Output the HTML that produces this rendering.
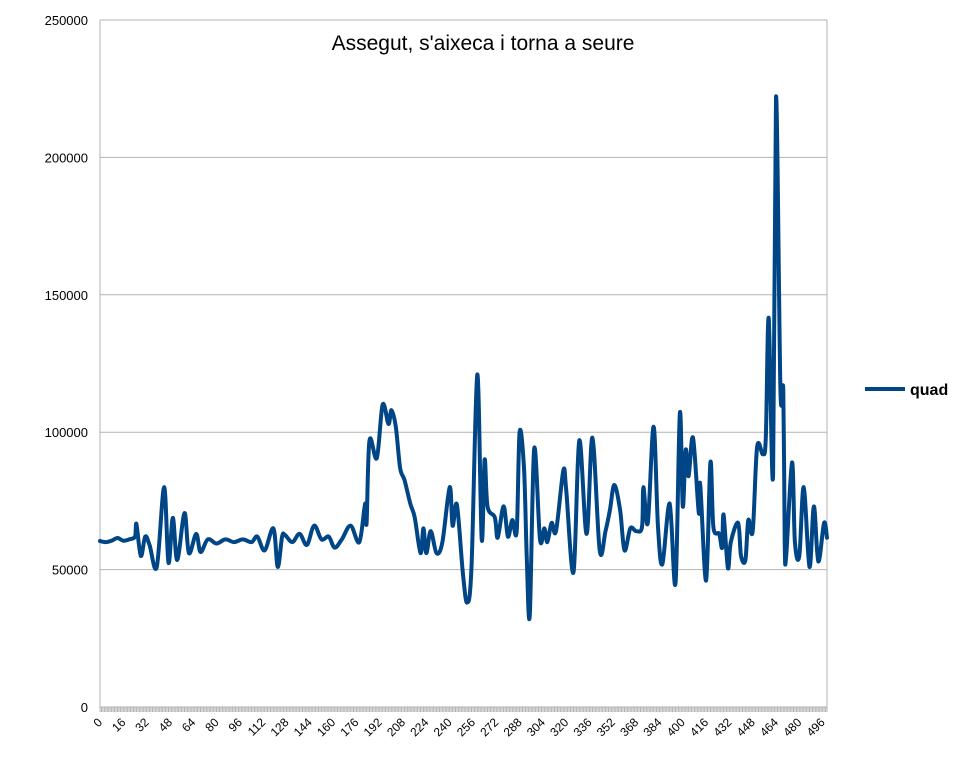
<!DOCTYPE html>
<html><head><meta charset="utf-8"><style>
body{margin:0;background:#fff;font-family:"Liberation Sans",sans-serif}
svg text{font-family:"Liberation Sans",sans-serif}
</style></head><body>
<svg id="c" width="967" height="777" xmlns="http://www.w3.org/2000/svg">
<text x="483" y="50" font-size="21" text-anchor="middle" fill="#000">Assegut, s'aixeca i torna a seure</text>
<g id="grid"></g><g id="xt"></g><g id="yl"></g>
<path id="line" fill="none" stroke="#004586" stroke-width="4" stroke-linejoin="round" stroke-linecap="round"/>
<line x1="865" y1="389" x2="905" y2="389" stroke="#004586" stroke-width="4"/>
<text x="910" y="395" font-size="16" font-weight="bold" fill="#000">quad</text>
</svg>
<script>
const xIdx=[0,4,8,12,16,20,24,25,28,31,34,39,44,47,50,53,58,61,66,69,74,80,86,92,98,104,108,113,119,122,125,127,132,137,142,147,152,157,161,166,172,178,182,183,185,190,194,198,200,203,206,209,213,216,220,222,224,227,231,235,240,242,245,249,252,255,259,262,264,266,271,273,277,280,283,286,288,291,293,295,298,302,305,307,310,313,318,320,325,329,334,338,343,347,350,353,357,360,364,368,372,373,376,380,383,386,391,395,398,400,402,404,407,411,412,416,419,421,425,427,428,431,433,438,440,443,445,448,451,455,457,459,462,464,467,469,470,471,475,477,480,483,487,490,493,497,499];
const vals=[60400,60000,60500,61500,60500,61000,62000,66600,55000,62000,59000,51000,80000,52500,68800,53500,70600,56000,63000,56400,61000,59500,61000,60000,61000,60000,62000,57000,65000,51000,62000,62600,60000,63000,59000,66000,61000,62000,58000,61000,66000,60000,74000,67000,97000,90600,110000,103000,108000,102000,87000,82600,74000,69000,56000,65000,56000,64000,56000,60000,80000,66000,73600,49000,38000,51000,121000,61000,90000,73000,69000,61600,73000,62000,68000,64000,100000,87000,53000,33500,94000,61000,65000,60000,67000,64000,86000,79000,49000,97000,63000,98000,57000,64000,71700,80800,71700,57000,65000,64000,65500,80000,67000,102000,65500,52000,74000,45000,107000,73000,93600,84000,98000,70600,81000,46000,89000,65500,63000,58000,70000,50600,60000,67000,55000,53500,68000,64000,94600,92000,98000,141600,84500,222000,116000,115000,60000,55000,89000,60000,55000,80000,51000,73000,53000,67000,61600];
const yTicks=[0,50000,100000,150000,200000,250000];
const xMax=499,L=100,R=827,T=20,B=707,NS="http://www.w3.org/2000/svg";
const xs=i=>L+(R-L)*i/xMax, ys=v=>B-(B-T)*v/250000;
function mk(t,a,p){const e=document.createElementNS(NS,t);for(const k in a)e.setAttribute(k,a[k]);document.getElementById(p).appendChild(e);return e;}
yTicks.forEach(v=>{
 const g=mk('line',{x1:L,x2:R,y1:ys(v),y2:ys(v),stroke:'#b3b3b3','stroke-width':1},'grid');
 
 
 const t=mk('text',{x:88,y:ys(v)+5,'font-size':13,'text-anchor':'end',fill:'#000'},'yl');
 
 
 t.textContent=v;
});
const ax=mk('line',{x1:L,x2:L,y1:T,y2:B,stroke:'#b3b3b3'},'grid');


const ax2=mk('line',{x1:R,x2:R,y1:T,y2:B,stroke:'#b3b3b3'},'grid');


let d='';
for(let i=0;i<=xMax;i++)d+=`M${xs(i).toFixed(2)} ${B}v5`;
const tk=mk('path',{d:d,stroke:'#b3b3b3','stroke-width':1},'xt');


for(let i=0;i<=xMax;i+=16){
 const x=xs(i),t=mk('text',{x:x+3,y:B+16,'font-size':12,'text-anchor':'end',fill:'#000',transform:`rotate(-45 ${x+3} ${B+16})`},'xt');
 
 
 t.textContent=i;
}
const P=xIdx.map((x,k)=>[xs(x),ys(vals[k])]);
let p=`M${P[0][0].toFixed(1)} ${P[0][1].toFixed(1)}`;
for(let i=0;i<P.length-1;i++){
 const p0=P[Math.max(0,i-1)],p1=P[i],p2=P[i+1],p3=P[Math.min(P.length-1,i+2)];
 const c1=[p1[0]+(p2[0]-p0[0])/6,p1[1]+(p2[1]-p0[1])/6],c2=[p2[0]-(p3[0]-p1[0])/6,p2[1]-(p3[1]-p1[1])/6];
 p+=`C${c1[0].toFixed(1)} ${c1[1].toFixed(1)} ${c2[0].toFixed(1)} ${c2[1].toFixed(1)} ${p2[0].toFixed(1)} ${p2[1].toFixed(1)}`;
}
document.getElementById('line').setAttribute('d',p);
</script>
</body></html>
